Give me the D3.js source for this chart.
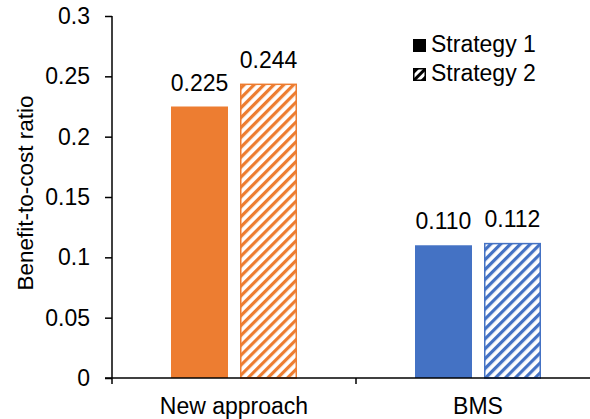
<!DOCTYPE html>
<html>
<head>
<meta charset="utf-8">
<script src="https://cdn.jsdelivr.net/npm/d3@7"></script>
<style>
  html, body { margin: 0; padding: 0; background: #fff; }
  text { font-family: "Liberation Sans", Arial, sans-serif; fill: #000; }
</style>
</head>
<body>
<svg id="chart" width="590" height="419"></svg>
<script>
// Benefit-to-cost ratio per approach and strategy
const categories = ["New approach", "BMS"];
const seriesNames = ["Strategy 1", "Strategy 2"];
const strategy1 = [0.225, 0.110];
const strategy2 = [0.244, 0.112];
const valueLabels1 = ["0.225", "0.110"];
const valueLabels2 = ["0.244", "0.112"];
const yTicks = [0, 0.05, 0.1, 0.15, 0.2, 0.25, 0.3];
const yTickLabels = ["0", "0.05", "0.1", "0.15", "0.2", "0.25", "0.3"];
const categoryColors = ["#ED7D31", "#4472C4"];

const FONT = "Liberation Sans, Arial, sans-serif";
const FS = 23;

const svg = d3.select("#chart");
const W = 590, H = 419;
const plot = { left: 112, right: 600, top: 16, bottom: 378 };

const x = d3.scaleBand().domain(categories).range([plot.left, plot.right]).paddingInner(0).paddingOuter(0);
const y = d3.scaleLinear().domain([0, 0.3]).range([plot.bottom, plot.top]);

// diagonal hatch patterns, one per category colour
const defs = svg.append("defs");
categoryColors.forEach((c, i) => {
  const p = defs.append("pattern")
    .attr("id", "hatch" + i)
    .attr("patternUnits", "userSpaceOnUse")
    .attr("width", 7).attr("height", 7)
    .attr("patternTransform", "rotate(45)");
  p.append("rect").attr("width", 7).attr("height", 7).attr("fill", "#fff");
  p.append("rect").attr("x", 0).attr("y", 0).attr("width", 3.2).attr("height", 7).attr("fill", c);
});

const barW = 57, gap = 12;
const groupW = barW * 2 + gap;

const rows = categories.map((c, i) => ({ cat: c, i, v: [strategy1[i], strategy2[i]], lab: [valueLabels1[i], valueLabels2[i]] }));

rows.forEach(r => {
  const x0 = x(r.cat) + x.bandwidth() / 2 - groupW / 2;
  r.v.forEach((v, s) => {
    const bx = x0 + s * (barW + gap);
    if (s === 0) {
      svg.append("rect")
        .attr("x", bx).attr("y", y(v))
        .attr("width", barW).attr("height", y(0) - y(v))
        .attr("fill", categoryColors[r.i]);
    } else {
      svg.append("rect")
        .attr("x", bx + 0.75).attr("y", y(v) + 0.75)
        .attr("width", barW - 1.5).attr("height", y(0) - y(v) - 0.75)
        .attr("fill", "url(#hatch" + r.i + ")")
        .attr("stroke", categoryColors[r.i]).attr("stroke-width", 1.5);
    }
    svg.append("text")
      .attr("x", bx + barW / 2).attr("y", y(v) - 16)
      .attr("text-anchor", "middle")
      .attr("font-size", FS)
      .text(r.lab[s]);
  });
});

// y axis
const yAxis = d3.axisLeft(y).tickValues(yTicks).tickFormat((d, i) => yTickLabels[i]).tickSize(7).tickPadding(15);
const gy = svg.append("g").attr("transform", `translate(${plot.left},0)`).call(yAxis);
gy.select(".domain").attr("stroke", "#000").attr("stroke-width", 1.5).attr("d", `M0,${y(0.3)}V${y(0) + 6}`);
gy.selectAll(".tick line").attr("stroke", "#000").attr("stroke-width", 1.5);
gy.selectAll(".tick text").attr("font-size", FS).attr("font-family", FONT).attr("fill", "#000");

// x axis
const xAxis = d3.axisBottom(x).tickSize(0);
const gx = svg.append("g").attr("transform", `translate(0,${y(0)})`).call(xAxis);
gx.select(".domain").attr("stroke", "#000").attr("stroke-width", 1.5).attr("d", `M${plot.left - 7},0H${W}`);
gx.selectAll(".tick text").attr("font-size", FS).attr("font-family", FONT).attr("fill", "#000")
  .attr("y", 36).attr("dy", 0);
// category boundary ticks
x.domain().slice(1).forEach(c => {
  const t = x(c);
  gx.append("line").attr("x1", t).attr("x2", t).attr("y1", 0).attr("y2", 6).attr("stroke", "#000").attr("stroke-width", 1.5);
});

// y axis title
svg.append("text")
  .attr("transform", `translate(33,${(y(0) + y(0.3)) / 2 - 4}) rotate(-90)`)
  .attr("text-anchor", "middle")
  .attr("font-size", 22.5)
  .text("Benefit-to-cost ratio");

// legend
const lp = defs.append("pattern")
  .attr("id", "hatchLegend")
  .attr("patternUnits", "userSpaceOnUse")
  .attr("width", 6).attr("height", 6)
  .attr("patternTransform", "rotate(45)");
lp.append("rect").attr("width", 6).attr("height", 6).attr("fill", "#fff");
lp.append("rect").attr("width", 3).attr("height", 6).attr("fill", "#000");

seriesNames.forEach((name, s) => {
  const base = 52 + s * 29;
  if (s === 0) {
    svg.append("rect").attr("x", 413).attr("y", base - 13).attr("width", 13).attr("height", 13).attr("fill", "#000");
  } else {
    svg.append("rect").attr("x", 413.75).attr("y", base - 12.25).attr("width", 11.5).attr("height", 11.5)
      .attr("fill", "url(#hatchLegend)").attr("stroke", "#000").attr("stroke-width", 1.5);
  }
  svg.append("text").attr("x", 431).attr("y", base).attr("font-size", FS).text(name);
});
</script>
</body>
</html>
